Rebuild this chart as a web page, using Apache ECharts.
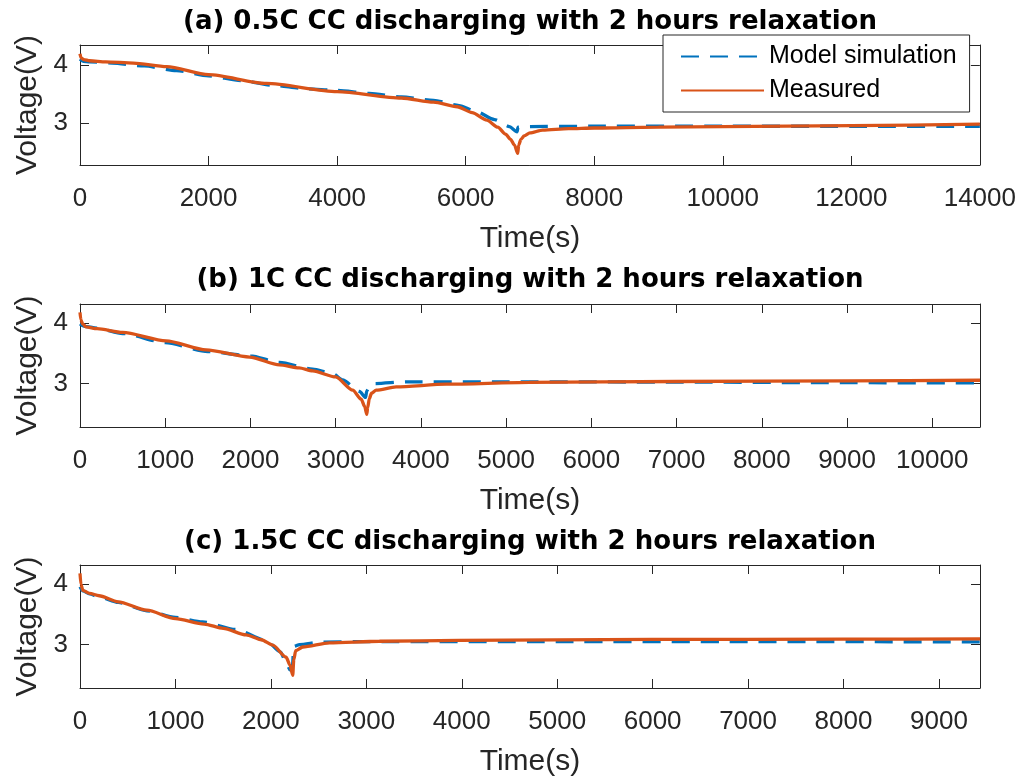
<!DOCTYPE html>
<html>
<head>
<meta charset="utf-8">
<script src="https://cdn.jsdelivr.net/npm/echarts@6/dist/echarts.min.js"></script>
<style>
  html, body { margin: 0; padding: 0; background: #ffffff; }
  #chart { width: 1019px; height: 778px; }
</style>
</head>
<body>
<div id="chart"></div>
<script>
// ---- panel text and axis ticks ----
const panelTitles = [
  '(a) 0.5C CC discharging with 2 hours relaxation',
  '(b) 1C CC discharging with 2 hours relaxation',
  '(c) 1.5C CC discharging with 2 hours relaxation'
];
const xTicksA = [0, 2000, 4000, 6000, 8000, 10000, 12000, 14000];
const xTicksB = [0, 1000, 2000, 3000, 4000, 5000, 6000, 7000, 8000, 9000, 10000];
const xTicksC = [0, 1000, 2000, 3000, 4000, 5000, 6000, 7000, 8000, 9000];
const xEnds = [14000, 10560, 9430];
const yTicks = [3, 4];
const yLimitsA = [2.28, 4.34];
const yLimitsB = [2.28, 4.32];
const yLimitsC = [2.28, 4.32];
const seriesNames = ['Model simulation', 'Measured'];

// ---- (a) 0.5C discharge, then rest ----
const timeModelA = [0, 50, 150, 500, 1000, 1500, 2000, 2500, 3000, 3500, 4000, 4500, 5000, 5500, 5900, 6160, 6450, 6680, 6800, 6815, 6900, 8000, 10000, 12000, 14000];
const voltModelA = [4.10, 4.06, 4.05, 4.03, 3.98, 3.90, 3.81, 3.73, 3.65, 3.59, 3.56, 3.51, 3.45, 3.39, 3.30, 3.20, 3.06, 2.94, 2.85, 2.93, 2.94, 2.945, 2.945, 2.945, 2.945];
const timeMeasA = [0, 15, 60, 150, 400, 830, 1350, 2000, 2900, 4000, 5000, 5500, 5870, 6100, 6330, 6500, 6620, 6700, 6760, 6810, 6825, 6860, 6910, 7000, 7200, 7600, 8000, 9000, 10000, 12000, 14000];
const voltMeasA = [4.19, 4.12, 4.09, 4.07, 4.05, 4.03, 3.97, 3.83, 3.68, 3.54, 3.43, 3.36, 3.28, 3.18, 3.05, 2.93, 2.81, 2.72, 2.62, 2.48, 2.62, 2.72, 2.78, 2.83, 2.88, 2.905, 2.915, 2.93, 2.94, 2.955, 2.98];

// ---- (b) 1C discharge, then rest ----
const timeModelB = [0, 50, 200, 500, 1000, 1500, 2000, 2340, 2730, 2965, 3080, 3280, 3350, 3365, 3400, 3455, 3830, 5000, 7000, 9000, 10560];
const voltModelB = [3.99, 3.95, 3.92, 3.83, 3.68, 3.53, 3.46, 3.35, 3.24, 3.165, 3.06, 2.87, 2.77, 2.88, 2.97, 3.00, 3.03, 3.03, 3.025, 3.015, 3.01];
const timeMeasB = [0, 10, 30, 70, 200, 500, 1010, 1480, 1990, 2340, 2570, 2730, 3000, 3200, 3300, 3340, 3365, 3375, 3395, 3420, 3475, 3710, 4300, 5270, 7000, 9000, 10560];
const voltMeasB = [4.18, 4.06, 3.99, 3.94, 3.91, 3.85, 3.71, 3.56, 3.44, 3.31, 3.26, 3.21, 3.11, 2.89, 2.74, 2.62, 2.49, 2.60, 2.75, 2.84, 2.89, 2.945, 2.99, 3.02, 3.035, 3.045, 3.055];

// ---- (c) 1.5C discharge, then rest ----
const timeModelC = [0, 30, 100, 200, 400, 700, 1000, 1285, 1635, 1950, 2100, 2160, 2200, 2225, 2240, 2300, 2520, 3000, 5000, 7000, 9430];
const voltModelC = [3.96, 3.89, 3.84, 3.79, 3.70, 3.56, 3.45, 3.375, 3.25, 3.07, 2.88, 2.70, 2.58, 2.62, 2.97, 3.00, 3.04, 3.05, 3.05, 3.05, 3.045];
const timeMeasC = [0, 10, 30, 100, 200, 400, 700, 1000, 1300, 1500, 1740, 1900, 2020, 2160, 2200, 2229, 2240, 2260, 2334, 2614, 3137, 3976, 6000, 8000, 9430];
const voltMeasC = [4.18, 4.00, 3.90, 3.85, 3.81, 3.71, 3.57, 3.43, 3.34, 3.27, 3.16, 3.08, 2.99, 2.79, 2.66, 2.49, 2.75, 2.90, 2.96, 3.03, 3.055, 3.07, 3.085, 3.09, 3.095];

// ---- layout & styling ----
const FONT = '"Liberation Sans", Arial, Helvetica, sans-serif';
const TITLE_FONT = '"DejaVu Sans", "Liberation Sans", Arial, sans-serif';
const AXIS_COLOR = '#262626';
const BLUE = '#0072BD';
const ORANGE = '#D95319';
const LINE_W = 3.3;
const panelTops = [45, 304, 565];
const panelHeights = [120, 123, 123];
const titleY = [22, 280, 542];
const xTicks = [xTicksA, xTicksB, xTicksC];
const yLimits = [yLimitsA, yLimitsB, yLimitsC];
const panels = [
  { model: [timeModelA, voltModelA], meas: [timeMeasA, voltMeasA] },
  { model: [timeModelB, voltModelB], meas: [timeMeasB, voltMeasB] },
  { model: [timeModelC, voltModelC], meas: [timeMeasC, voltMeasC] }
];

const zip = (ts, vs) => ts.map((t, i) => [t, vs[i]]);
const plain = (v) => String(v);

const grids = [], xAxes = [], yAxes = [], series = [];
panels.forEach((p, i) => {
  grids.push({ left: 80, width: 900, top: panelTops[i], height: panelHeights[i], containLabel: false });
  const lineCfg = { show: true, onZero: false, lineStyle: { color: AXIS_COLOR, width: 1 } };
  const xTickCfg = { show: true, inside: true, length: 9, customValues: xTicks[i], lineStyle: { color: AXIS_COLOR, width: 1 } };
  xAxes.push({
    type: 'value', gridIndex: i, position: 'bottom', min: 0, max: xEnds[i],
    axisLine: lineCfg, axisTick: xTickCfg,
    axisLabel: { show: true, customValues: xTicks[i], formatter: plain, margin: 21, fontSize: 26, color: AXIS_COLOR, fontFamily: FONT },
    splitLine: { show: false },
    name: 'Time(s)', nameLocation: 'middle', nameGap: 59,
    nameTextStyle: { fontSize: 30, color: AXIS_COLOR, fontFamily: FONT }
  });
  xAxes.push({
    type: 'value', gridIndex: i, position: 'top', min: 0, max: xEnds[i],
    axisLine: lineCfg, axisTick: xTickCfg, axisLabel: { show: false }, splitLine: { show: false }
  });
  const yTickCfg = { show: true, inside: true, length: 9, customValues: yTicks, lineStyle: { color: AXIS_COLOR, width: 1 } };
  yAxes.push({
    type: 'value', gridIndex: i, position: 'left', min: yLimits[i][0], max: yLimits[i][1],
    axisLine: lineCfg, axisTick: yTickCfg,
    axisLabel: { show: true, customValues: yTicks, formatter: plain, margin: 12, fontSize: 26, color: AXIS_COLOR, fontFamily: FONT },
    splitLine: { show: false },
    name: 'Voltage(V)', nameLocation: 'middle', nameGap: 37, nameRotate: 90,
    nameTextStyle: { fontSize: 30, color: AXIS_COLOR, fontFamily: FONT }
  });
  yAxes.push({
    type: 'value', gridIndex: i, position: 'right', min: yLimits[i][0], max: yLimits[i][1],
    axisLine: lineCfg, axisTick: yTickCfg, axisLabel: { show: false }, splitLine: { show: false }
  });
  series.push({
    name: seriesNames[0], type: 'line', xAxisIndex: 2 * i, yAxisIndex: 2 * i,
    data: zip(p.model[0], p.model[1]), showSymbol: false, symbol: 'none',
    smooth: 0.25, smoothMonotone: 'x',
    lineStyle: { color: BLUE, width: LINE_W, type: [18, 11], cap: 'butt' },
    itemStyle: { color: BLUE }, z: 2
  });
  series.push({
    name: seriesNames[1], type: 'line', xAxisIndex: 2 * i, yAxisIndex: 2 * i,
    data: zip(p.meas[0], p.meas[1]), showSymbol: false, symbol: 'none',
    smooth: 0.25, smoothMonotone: 'x',
    lineStyle: { color: ORANGE, width: LINE_W, type: 'solid' },
    itemStyle: { color: ORANGE }, z: 3
  });
});

const chart = echarts.init(document.getElementById('chart'), null, { renderer: 'canvas' });
chart.setOption({
  animation: false,
  backgroundColor: '#ffffff',
  grid: grids,
  xAxis: xAxes,
  yAxis: yAxes,
  series: series,
  legend: {
    data: seriesNames, orient: 'vertical', left: 663, top: 35,
    itemWidth: 83, itemHeight: 25, itemGap: 9,
    padding: [9, 13, 9, 17],
    backgroundColor: '#ffffff', borderColor: AXIS_COLOR, borderWidth: 1,
    itemStyle: { opacity: 0 },
    textStyle: { fontSize: 25, color: '#000000', fontFamily: FONT },
    selectedMode: false, z: 10
  },
  graphic: panelTitles.map((t, i) => ({
    type: 'text', x: 530, y: titleY[i], z: 20,
    style: { text: t, font: 'bold 26px ' + TITLE_FONT, fill: '#000000', align: 'center', verticalAlign: 'middle' }
  }))
});
</script>
</body>
</html>
